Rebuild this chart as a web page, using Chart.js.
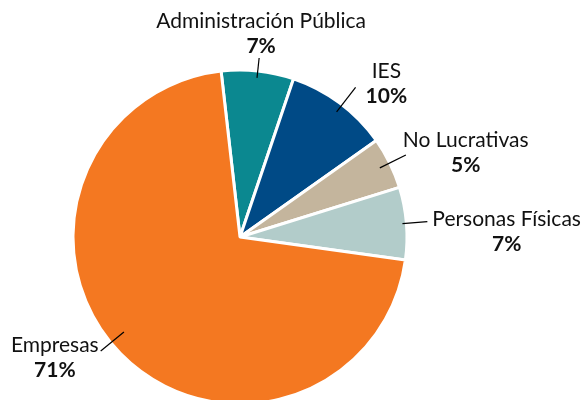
<!DOCTYPE html>
<html>
<head>
<meta charset="utf-8">
<script src="https://cdn.jsdelivr.net/npm/chart.js@4.4.1/dist/chart.umd.min.js"></script>
<style>
  html, body { margin: 0; padding: 0; background: #fff; overflow: hidden; }
  #wrap { width: 585px; height: 400px; position: relative; }
</style>
</head>
<body>
<div id="wrap"><canvas id="myChart" width="585" height="400"></canvas></div>
<script>
// datos del gráfico
const sectores = ['Administración Pública', 'IES', 'No Lucrativas', 'Personas Físicas', 'Empresas'];
const porcentajes = [7, 10, 5, 7, 71];
const colores = ['#0B8890', '#004A86', '#C4B59D', '#B2CCCA', '#F47821'];

// línea guía (radios relativos al borde, giro en grados) y posición del texto
const labelOffsets = [
  { r1: -7, r2: 13, da: 0, dx: 2, dy: -24, align: 'center' },
  { r1: -9, r2: 22, da: 1, dx: 10, dy: -3.5, align: 'left' },
  { r1: -11, r2: 18, da: 0, dx: -3, dy: -2.5, align: 'left' },
  { r1: -4, r2: 21, da: 0, dx: 5, dy: 10.5, align: 'left' },
  { r1: -17, r2: 13, da: 5, dx: -2, dy: 7, align: 'right' }
];

const FONT = '21px Lato, "Open Sans", sans-serif';
const FONT_BOLD = 'bold 21px Lato, "Open Sans", sans-serif';

const leaderLabels = {
  id: 'leaderLabels',
  afterDatasetsDraw(chart) {
    const ctx = chart.ctx;
    const meta = chart.getDatasetMeta(0);
    ctx.save();
    meta.data.forEach((arc, i) => {
      const off = labelOffsets[i];
      const mid = (arc.startAngle + arc.endAngle) / 2 + off.da * Math.PI / 180;
      const r = arc.outerRadius;
      const x1 = arc.x + Math.cos(mid) * (r + off.r1);
      const y1 = arc.y + Math.sin(mid) * (r + off.r1);
      const x2 = arc.x + Math.cos(mid) * (r + off.r2);
      const y2 = arc.y + Math.sin(mid) * (r + off.r2);
      ctx.strokeStyle = '#000';
      ctx.lineWidth = 1.2;
      ctx.beginPath();
      ctx.moveTo(x1, y1);
      ctx.lineTo(x2, y2);
      ctx.stroke();

      const name = sectores[i];
      const pct = porcentajes[i] + '%';
      ctx.font = FONT;
      const wName = ctx.measureText(name).width;
      ctx.font = FONT_BOLD;
      const wPct = ctx.measureText(pct).width;
      const blockW = Math.max(wName, wPct);
      let cx;
      if (off.align === 'left') cx = x2 + off.dx + blockW / 2;
      else if (off.align === 'right') cx = x2 + off.dx - blockW / 2;
      else cx = x2 + off.dx;
      const cy = y2 + off.dy;
      ctx.fillStyle = '#111';
      ctx.textAlign = 'center';
      ctx.textBaseline = 'middle';
      ctx.font = FONT;
      ctx.fillText(name, cx, cy - 12.5);
      ctx.font = FONT_BOLD;
      ctx.fillText(pct, cx, cy + 12.5);
    });
    ctx.restore();
  }
};

new Chart(document.getElementById('myChart'), {
  type: 'pie',
  data: {
    labels: sectores,
    datasets: [{
      data: porcentajes,
      backgroundColor: colores,
      borderColor: '#fff',
      borderWidth: 3
    }]
  },
  options: {
    responsive: false,
    animation: false,
    rotation: -6.5,
    radius: 167,
    layout: { padding: { left: 73, right: 178, top: 74, bottom: 0 } },
    plugins: {
      legend: { display: false },
      tooltip: { enabled: false }
    }
  },
  plugins: [leaderLabels]
});
</script>
</body>
</html>
